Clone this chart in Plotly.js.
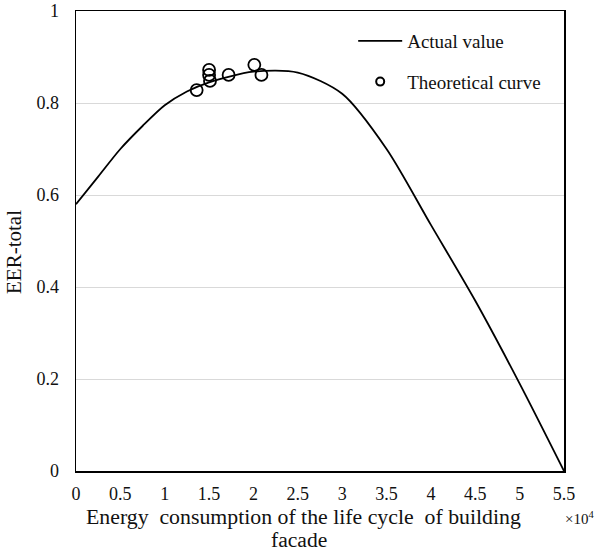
<!DOCTYPE html>
<html>
<head>
<meta charset="utf-8">
<script src="https://cdn.plot.ly/plotly-3.0.1.min.js"></script>
<style>html,body{margin:0;padding:0;background:#fff}</style>
</head>
<body>
<div id="chart" style="width:596px;height:556px"></div>
<script>
const curveX = [0, 0.25, 0.5, 0.75, 1, 1.25, 1.5, 2, 2.5, 3, 3.5, 4, 4.5, 5, 5.5];
const curveY = [0.58, 0.64, 0.70, 0.75, 0.795, 0.825, 0.845, 0.868, 0.866, 0.82, 0.70, 0.535, 0.37, 0.19, 0];
const pointX = [1.36, 1.50, 1.50, 1.51, 1.72, 2.01, 2.09];
const pointY = [0.828, 0.872, 0.861, 0.848, 0.861, 0.883, 0.861];
const xTicks = [0, 0.5, 1, 1.5, 2, 2.5, 3, 3.5, 4, 4.5, 5, 5.5];
const xTickText = ['0', '0.5', '1', '1.5', '2', '2.5', '3', '3.5', '4', '4.5', '5', '5.5'];
const yTicks = [0, 0.2, 0.4, 0.6, 0.8, 1];
const yTickText = ['0', '0.2', '0.4', '0.6', '0.8', '1'];
const seriesNames = ['Actual value', 'Theoretical curve'];
const xTitleLines = ['Energy  consumption of the life cycle  of building', 'facade'];
const yTitle = 'EER-total';
const xMultiplier = '×10<sup>4</sup>';

const font = {family: 'Liberation Serif, Times New Roman, serif', color: '#111'};

const traces = [
  {x: curveX, y: curveY, mode: 'lines', name: seriesNames[0], legendgroup: 'a',
   line: {color: '#000', width: 1.8, shape: 'spline', smoothing: 0.8}},
  {x: pointX, y: pointY, mode: 'markers', name: seriesNames[1], showlegend: false,
   marker: {symbol: 'circle-open', size: 12, color: '#000', line: {width: 1.8, color: '#000'}}},
  // legend entry only (smaller legend symbol, as in the reference)
  {x: [null], y: [null], mode: 'markers', name: seriesNames[1], legendgroup: 'b',
   marker: {symbol: 'circle-open', size: 8, color: '#000', line: {width: 2, color: '#000'}}}
];

const layout = {
  width: 596, height: 556,
  margin: {l: 76, r: 32, t: 11, b: 85},
  paper_bgcolor: '#fff', plot_bgcolor: '#fff',
  font: Object.assign({size: 17}, font),
  showlegend: true,
  legend: {x: 0.568, y: 0.976, xanchor: 'left', yanchor: 'top', bgcolor: 'rgba(0,0,0,0)',
           font: Object.assign({size: 19}, font), tracegroupgap: 13, itemwidth: 44},
  xaxis: {range: [0, 5.5], tickvals: xTicks, ticktext: xTickText, showgrid: false, zeroline: false,
          showline: true, mirror: true, linecolor: '#000', linewidth: 1.5, ticks: '',
          tickfont: Object.assign({size: 18}, font), ticklabelstandoff: 6},
  yaxis: {range: [0, 1], tickvals: yTicks, ticktext: yTickText, showgrid: true, gridcolor: '#d9d9d9',
          gridwidth: 1, zeroline: false, showline: true, mirror: true, linecolor: '#000', linewidth: 1.5,
          ticks: '', tickfont: Object.assign({size: 18}, font), ticklabelstandoff: 12},
  annotations: [
    {xref: 'paper', yref: 'paper', x: 1.0656, y: -0.102, xanchor: 'right', yanchor: 'middle',
     showarrow: false, text: xMultiplier, font: Object.assign({size: 15}, font)},
    {xref: 'paper', yref: 'paper', x: (303 - 76) / 488, y: -(517 - 471) / 460, xanchor: 'center', yanchor: 'middle',
     showarrow: false, text: xTitleLines[0], font: Object.assign({size: 21.8}, font)},
    {xref: 'paper', yref: 'paper', x: (299 - 76) / 488, y: -(540 - 471) / 460, xanchor: 'center', yanchor: 'middle',
     showarrow: false, text: xTitleLines[1], font: Object.assign({size: 21.6}, font)},
    {xref: 'paper', yref: 'paper', x: (14 - 76) / 488, y: (471 - 252) / 460, xanchor: 'center', yanchor: 'middle',
     showarrow: false, textangle: -90, text: yTitle, font: Object.assign({size: 21}, font)}
  ]
};

Plotly.newPlot('chart', traces, layout, {displayModeBar: false, staticPlot: true});
</script>
</body>
</html>
